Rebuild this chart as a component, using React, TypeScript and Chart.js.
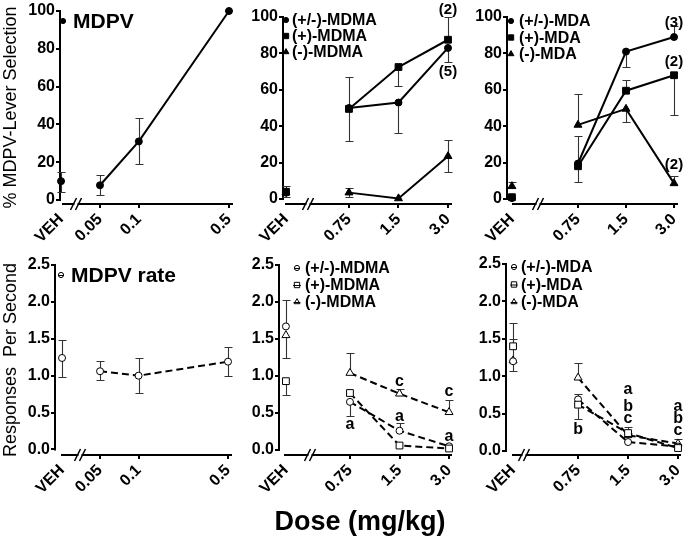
import React, { useEffect, useRef } from "react";
import { Chart, registerables } from "chart.js";
Chart.register(...registerables);

// ---------- categories / tick labels ----------
const VEH_LABEL = "VEH";
const MDPV_DOSES = [0.05, 0.1, 0.5];
const MDPV_DOSE_LABELS = ["0.05", "0.1", "0.5"];
const AMPH_DOSES = [0.75, 1.5, 3.0];
const AMPH_DOSE_LABELS = ["0.75", "1.5", "3.0"];
const PCT_TICKS = [0, 20, 40, 60, 80, 100];
const RATE_TICKS = [0, 0.5, 1.0, 1.5, 2.0, 2.5];

// ---------- values (index 0 = VEH, then doses); HI/LO = error bar ends ----------
// % MDPV-lever selection
const MDPV_SEL = [10, 7.8, 31, 100];
const MDPV_SEL_HI = [15, 13.2, 43.5, null];
const MDPV_SEL_LO = [4, 2.6, 19, null];

const RAC_MDMA_SEL = [3.5, 50, 53, 83];
const RAC_MDMA_SEL_HI = [null, null, null, null];
const RAC_MDMA_SEL_LO = [null, null, 36, 75];
const PLUS_MDMA_SEL = [4, 49.5, 72.5, 87.5];
const PLUS_MDMA_SEL_HI = [7, 67, null, 100];
const PLUS_MDMA_SEL_LO = [1, 32, 62, null];
const MINUS_MDMA_SEL = [3.5, 3.5, 0.3, 23.5];
const MINUS_MDMA_SEL_HI = [null, 6, null, 32.5];
const MINUS_MDMA_SEL_LO = [null, 1, null, 15];

const RAC_MDA_SEL = [0.5, 19.5, 81, 89];
const RAC_MDA_SEL_HI = [null, 34.5, null, 95];
const RAC_MDA_SEL_LO = [null, null, 72.5, null];
const PLUS_MDA_SEL = [1, 18, 59.5, 68];
const PLUS_MDA_SEL_HI = [null, null, 65.5, null];
const PLUS_MDA_SEL_LO = [null, 9.5, null, 46];
const MINUS_MDA_SEL = [7, 40.7, 49.5, 8.6];
const MINUS_MDA_SEL_HI = [9.5, 57.7, null, 12.8];
const MINUS_MDA_SEL_LO = [null, null, 42.5, null];

// Responses per second
const MDPV_RATE = [1.24, 1.06, 1.0, 1.19];
const MDPV_RATE_HI = [1.49, 1.2, 1.24, 1.39];
const MDPV_RATE_LO = [0.98, 0.94, 0.76, 0.99];

const RAC_MDMA_RATE = [1.67, 0.65, 0.26, 0.05];
const RAC_MDMA_RATE_HI = [2.03, null, 0.36, null];
const RAC_MDMA_RATE_LO = [null, 0.46, null, null];
const PLUS_MDMA_RATE = [0.93, 0.77, 0.06, 0.02];
const PLUS_MDMA_RATE_HI = [null, null, null, null];
const PLUS_MDMA_RATE_LO = [0.74, null, null, null];
const MINUS_MDMA_RATE = [1.55, 1.04, 0.76, 0.51];
const MINUS_MDMA_RATE_HI = [null, 1.31, 0.82, 0.68];
const MINUS_MDMA_RATE_LO = [1.24, null, null, null];

const RAC_MDA_RATE = [1.2, 0.69, 0.12, 0.06];
const RAC_MDA_RATE_HI = [1.5, 0.76, null, null];
const RAC_MDA_RATE_LO = [1.07, null, null, null];
const PLUS_MDA_RATE = [1.4, 0.62, 0.24, 0.04];
const PLUS_MDA_RATE_HI = [1.71, null, 0.32, null];
const PLUS_MDA_RATE_LO = [null, 0.43, null, null];
const MINUS_MDA_RATE = [1.21, 0.98, 0.21, 0.1];
const MINUS_MDA_RATE_HI = [null, 1.18, null, 0.16];
const MINUS_MDA_RATE_LO = [null, null, null, null];

// ---------- annotations (n per group, significance letters) ----------
const MDMA_SEL_NOTES = [
  { dose: 3.0, y: 104, text: "(2)" },
  { dose: 3.0, y: 70, text: "(5)" },
];
const MDA_SEL_NOTES = [
  { dose: 3.0, y: 97, text: "(3)" },
  { dose: 3.0, y: 75.4, text: "(2)" },
  { dose: 3.0, y: 18.7, text: "(2)" },
];
const MDMA_RATE_NOTES = [
  { dose: 0.75, y: 0.34, text: "a" },
  { dose: 1.5, y: 0.92, text: "c" },
  { dose: 1.5, y: 0.45, text: "a" },
  { dose: 3.0, y: 0.79, text: "c" },
  { dose: 3.0, y: 0.18, text: "a" },
];
const MDA_RATE_NOTES = [
  { dose: 0.75, y: 0.28, text: "b" },
  { dose: 1.5, y: 0.82, text: "a" },
  { dose: 1.5, y: 0.6, text: "b" },
  { dose: 1.5, y: 0.44, text: "c" },
  { dose: 3.0, y: 0.59, text: "a" },
  { dose: 3.0, y: 0.43, text: "b" },
  { dose: 3.0, y: 0.27, text: "c" },
];

const FONT = "'Liberation Sans', Arial, Helvetica, sans-serif";
const W = 685;
const H = 539;
const XH = 60;
const xPos = (d: number) => Math.log10(d);

type Series = { label: string; style: string; values: number[]; hi: (number | null)[]; lo: (number | null)[] };

const PANELS: any[] = [
  {
    area: { left: 60, right: 233, top: 11, bottom: 204 }, yw: 60,
    ymin: -2.1, ymax: 100, yTicks: PCT_TICKS, yFmt: (v: number) => String(v), yTitle: "% MDPV-Lever Selection",
    xmin: -1.611, xmax: -0.27, veh: -1.603, doses: MDPV_DOSES, doseLabels: MDPV_DOSE_LABELS, open: false,
    series: [{ label: "MDPV", style: "circle", values: MDPV_SEL, hi: MDPV_SEL_HI, lo: MDPV_SEL_LO }],
    legend: { dx: 3, dy: 10, gap: 0, textDx: 10, size: 21 },
    notes: [], xAxisStart: 2, breakAt: 16,
  },
  {
    area: { left: 283, right: 452, top: 17, bottom: 204 }, yw: 40,
    ymin: -2.75, ymax: 100, yTicks: PCT_TICKS, yFmt: (v: number) => String(v), yTitle: "",
    xmin: -0.526, xmax: 0.5014, veh: -0.508, doses: AMPH_DOSES, doseLabels: AMPH_DOSE_LABELS, open: false,
    series: [
      { label: "(+/-)-MDMA", style: "circle", values: RAC_MDMA_SEL, hi: RAC_MDMA_SEL_HI, lo: RAC_MDMA_SEL_LO },
      { label: "(+)-MDMA", style: "rect", values: PLUS_MDMA_SEL, hi: PLUS_MDMA_SEL_HI, lo: PLUS_MDMA_SEL_LO },
      { label: "(-)-MDMA", style: "triangle", values: MINUS_MDMA_SEL, hi: MINUS_MDMA_SEL_HI, lo: MINUS_MDMA_SEL_LO },
    ],
    legend: { dx: 3, dy: 3, gap: 16, textDx: 6, size: 16 },
    notes: MDMA_SEL_NOTES, xAxisStart: 2, breakAt: 25,
  },
  {
    area: { left: 507, right: 678, top: 17, bottom: 204 }, yw: 40,
    ymin: -2.75, ymax: 100, yTicks: PCT_TICKS, yFmt: (v: number) => String(v), yTitle: "",
    xmin: -0.570, xmax: 0.502, veh: -0.539, doses: AMPH_DOSES, doseLabels: AMPH_DOSE_LABELS, open: false,
    series: [
      { label: "(+/-)-MDA", style: "circle", values: RAC_MDA_SEL, hi: RAC_MDA_SEL_HI, lo: RAC_MDA_SEL_LO },
      { label: "(+)-MDA", style: "rect", values: PLUS_MDA_SEL, hi: PLUS_MDA_SEL_HI, lo: PLUS_MDA_SEL_LO },
      { label: "(-)-MDA", style: "triangle", values: MINUS_MDA_SEL, hi: MINUS_MDA_SEL_HI, lo: MINUS_MDA_SEL_LO },
    ],
    legend: { dx: 4, dy: 4, gap: 16.5, textDx: 8, size: 16 },
    notes: MDA_SEL_NOTES, xAxisStart: 5, breakAt: 31,
  },
  {
    area: { left: 55, right: 232, top: 265, bottom: 455 }, yw: 55,
    ymin: -0.075, ymax: 2.5, yTicks: RATE_TICKS, yFmt: (v: number) => v.toFixed(1), yTitle: "Responses  Per Second",
    xmin: -1.653, xmax: -0.27, veh: -1.598, doses: MDPV_DOSES, doseLabels: MDPV_DOSE_LABELS, open: true,
    series: [{ label: "MDPV rate", style: "circle", values: MDPV_RATE, hi: MDPV_RATE_HI, lo: MDPV_RATE_LO }],
    legend: { dx: 6, dy: 10, gap: 0, textDx: 10, size: 21 },
    notes: [], xAxisStart: 6, breakAt: 25,
  },
  {
    area: { left: 279, right: 452, top: 265, bottom: 455 }, yw: 40,
    ymin: -0.068, ymax: 2.5, yTicks: RATE_TICKS, yFmt: (v: number) => v.toFixed(1), yTitle: "",
    xmin: -0.556, xmax: 0.495, veh: -0.514, doses: AMPH_DOSES, doseLabels: AMPH_DOSE_LABELS, open: true,
    series: [
      { label: "(+/-)-MDMA", style: "circle", values: RAC_MDMA_RATE, hi: RAC_MDMA_RATE_HI, lo: RAC_MDMA_RATE_LO },
      { label: "(+)-MDMA", style: "rect", values: PLUS_MDMA_RATE, hi: PLUS_MDMA_RATE_HI, lo: PLUS_MDMA_RATE_LO },
      { label: "(-)-MDMA", style: "triangle", values: MINUS_MDMA_RATE, hi: MINUS_MDMA_RATE_HI, lo: MINUS_MDMA_RATE_LO },
    ],
    legend: { dx: 18, dy: 3, gap: 17, textDx: 8, size: 16 },
    notes: MDMA_RATE_NOTES, xAxisStart: 5, breakAt: 31,
  },
  {
    area: { left: 506, right: 681, top: 264, bottom: 455 }, yw: 40,
    ymin: -0.053, ymax: 2.5, yTicks: RATE_TICKS, yFmt: (v: number) => v.toFixed(1), yTitle: "",
    xmin: -0.559, xmax: 0.495, veh: -0.5165, doses: AMPH_DOSES, doseLabels: AMPH_DOSE_LABELS, open: true,
    series: [
      { label: "(+/-)-MDA", style: "circle", values: RAC_MDA_RATE, hi: RAC_MDA_RATE_HI, lo: RAC_MDA_RATE_LO },
      { label: "(+)-MDA", style: "rect", values: PLUS_MDA_RATE, hi: PLUS_MDA_RATE_HI, lo: PLUS_MDA_RATE_LO },
      { label: "(-)-MDA", style: "triangle", values: MINUS_MDA_RATE, hi: MINUS_MDA_RATE_HI, lo: MINUS_MDA_RATE_LO },
    ],
    legend: { dx: 8, dy: 3, gap: 17.5, textDx: 7, size: 16 },
    notes: MDA_RATE_NOTES, xAxisStart: 6, breakAt: 18,
  },
];

const MARKER_R: Record<string, number> = { circle: 3.5, rect: 4.8, triangle: 4.6 };
const LEGEND_R: Record<string, number> = { circle: 2.6, rect: 3.8, triangle: 3.4 };

function drawMarker(ctx: CanvasRenderingContext2D, style: string, x: number, y: number, r: number, open: boolean) {
  ctx.beginPath();
  if (style === "circle") {
    ctx.arc(x, y, r, 0, Math.PI * 2);
  } else if (style === "rect") {
    const s = Math.SQRT1_2 * r;
    ctx.rect(x - s, y - s, 2 * s, 2 * s);
  } else {
    ctx.moveTo(x, y - r);
    ctx.lineTo(x + r * Math.sin((2 * Math.PI) / 3), y - r * Math.cos((2 * Math.PI) / 3));
    ctx.lineTo(x + r * Math.sin((4 * Math.PI) / 3), y - r * Math.cos((4 * Math.PI) / 3));
    ctx.closePath();
  }
  ctx.fillStyle = open ? "#fff" : "#000";
  ctx.fill();
  ctx.lineWidth = 1;
  ctx.strokeStyle = "#000";
  ctx.stroke();
}

const decorPlugin = {
  id: "decor",
  beforeDatasetsDraw(chart: any, _a: any, opts: any) {
    const { ctx, chartArea } = chart;
    const x = chart.scales.x;
    const y = chart.scales.y;
    ctx.save();
    ctx.strokeStyle = "#000";
    ctx.lineWidth = 2;
    // y axis (ends at 0)
    ctx.beginPath();
    ctx.moveTo(chartArea.left, y.getPixelForValue(y.max) - 1);
    ctx.lineTo(chartArea.left, y.getPixelForValue(0) + 1);
    ctx.stroke();
    // x axis, offset
    const yb = chartArea.bottom;
    ctx.beginPath();
    ctx.moveTo(chartArea.left + opts.xAxisStart, yb);
    ctx.lineTo(chartArea.right, yb);
    ctx.stroke();
    // axis break
    const bx = chartArea.left + opts.breakAt;
    ctx.fillStyle = "#fff";
    ctx.fillRect(bx - 1.5, yb - 1.5, 3, 3);
    ctx.lineWidth = 1.5;
    for (const dx of [-2.5, 2.5]) {
      ctx.beginPath();
      ctx.moveTo(bx + dx - 3, yb + 6);
      ctx.lineTo(bx + dx + 3, yb - 6);
      ctx.stroke();
    }
    // error bars
    ctx.strokeStyle = "#333";
    ctx.lineWidth = 1.1;
    chart.data.datasets.forEach((ds: any) => {
      ds.data.forEach((pt: any, i: number) => {
        const px = Math.round(x.getPixelForValue(pt.x)) + 0.5;
        const py0 = y.getPixelForValue(pt.y);
        for (const b of [ds.errHi[i], ds.errLo[i]]) {
          if (b == null) continue;
          const py1 = Math.round(y.getPixelForValue(b)) + 0.5;
          ctx.beginPath();
          ctx.moveTo(px, py0);
          ctx.lineTo(px, py1);
          ctx.moveTo(px - 4, py1);
          ctx.lineTo(px + 4, py1);
          ctx.stroke();
        }
      });
    });
    ctx.restore();
  },
  afterDraw(chart: any, _a: any, opts: any) {
    const { ctx, chartArea } = chart;
    const x = chart.scales.x;
    const y = chart.scales.y;
    ctx.save();
    // legend
    const lg = opts.legend;
    opts.items.forEach((it: any, i: number) => {
      const mx = chartArea.left + lg.dx;
      const my = chartArea.top + lg.dy + i * lg.gap;
      drawMarker(ctx, it.style, mx, my, LEGEND_R[it.style], it.open);
      if (it.open) {
        ctx.strokeStyle = "#000";
        ctx.lineWidth = 1;
        ctx.beginPath();
        ctx.moveTo(mx - LEGEND_R[it.style], my + 0.5);
        ctx.lineTo(mx + LEGEND_R[it.style], my + 0.5);
        ctx.stroke();
      }
      ctx.fillStyle = "#000";
      ctx.font = `bold ${lg.size}px ${FONT}`;
      ctx.textAlign = "left";
      ctx.textBaseline = "middle";
      ctx.fillText(it.text, mx + lg.textDx, my + 1);
    });
    // notes
    opts.notes.forEach((n: any) => {
      const isLetter = n.text.length === 1;
      ctx.font = isLetter ? `bold 16px ${FONT}` : `bold 15px ${FONT}`;
      ctx.fillStyle = "#000";
      ctx.textAlign = "center";
      ctx.textBaseline = "middle";
      ctx.fillText(n.text, x.getPixelForValue(xPos(n.dose)), y.getPixelForValue(n.y));
    });
    ctx.restore();
  },
};

function makeChart(canvas: HTMLCanvasElement, p: any) {
  const xTicks = [p.veh, ...p.doses.map(xPos)];
  const xLabels = [VEH_LABEL, ...p.doseLabels];
  const datasets = p.series.map((s: Series, si: number) => ({
    label: s.label,
    data: s.values.map((v, i) => ({ x: i === 0 ? p.veh : xPos(p.doses[i - 1]), y: v })),
    errHi: s.hi,
    errLo: s.lo,
    borderColor: "#000",
    borderWidth: 2,
    borderDash: p.open ? [7, 4] : [],
    pointStyle: s.style,
    pointRadius: MARKER_R[s.style],
    pointBackgroundColor: p.open ? "#fff" : "#000",
    pointBorderColor: "#000",
    pointBorderWidth: 1,
    tension: 0,
    fill: false,
    clip: false,
    order: s.style === "rect" ? 0 : si + 1,
    segment: { borderColor: (c: any) => (c.p0DataIndex === 0 ? "rgba(0,0,0,0)" : undefined) },
  }));
  const tickFont = { family: FONT, size: 16, weight: "bold" as const };
  return new Chart(canvas, {
    type: "line",
    data: { datasets },
    plugins: [decorPlugin],
    options: {
      responsive: false,
      animation: false,
      devicePixelRatio: 1,
      events: [],
      layout: {
        autoPadding: false,
        padding: {
          left: p.area.left - p.yw,
          right: W - p.area.right,
          top: p.area.top,
          bottom: H - p.area.bottom - XH,
        },
      },
      scales: {
        x: {
          type: "linear",
          min: p.xmin,
          max: p.xmax,
          afterBuildTicks: (s: any) => { s.ticks = xTicks.map((v) => ({ value: v })); },
          afterFit: (s: any) => { s.height = XH; s.paddingLeft = 0; s.paddingRight = 0; },
          ticks: {
            autoSkip: false,
            minRotation: 45,
            maxRotation: 45,
            padding: 2,
            color: "#000",
            font: tickFont,
            callback: (_v: any, i: number) => xLabels[i],
          },
          grid: {
            drawOnChartArea: false,
            drawTicks: true,
            tickLength: 4,
            lineWidth: 2,
            color: (c: any) => (c.index === 0 ? "rgba(0,0,0,0)" : "#000"),
          },
          border: { display: false },
        },
        y: {
          type: "linear",
          min: p.ymin,
          max: p.ymax,
          afterBuildTicks: (s: any) => { s.ticks = p.yTicks.map((v: number) => ({ value: v })); },
          afterFit: (s: any) => { s.width = p.yw; s.paddingTop = 0; s.paddingBottom = 0; },
          ticks: { padding: 1, color: "#000", font: tickFont, callback: (v: any) => p.yFmt(Number(v)) },
          grid: { drawOnChartArea: false, drawTicks: true, tickLength: 4, lineWidth: 2, color: "#000" },
          border: { display: false },
          title: {
            display: !!p.yTitle,
            text: p.yTitle,
            color: "#000",
            font: { family: FONT, size: 18 },
            padding: 0,
          },
        },
      },
      plugins: {
        legend: { display: false },
        tooltip: { enabled: false },
        decor: {
          legend: p.legend,
          items: p.series.map((s: Series) => ({ text: s.label, style: s.style, open: p.open })),
          notes: p.notes,
          xAxisStart: p.xAxisStart,
          breakAt: p.breakAt,
        },
      } as any,
    } as any,
  });
}

export default function App() {
  const refs = useRef<(HTMLCanvasElement | null)[]>([]);
  useEffect(() => {
    const charts = PANELS.map((p, i) => makeChart(refs.current[i] as HTMLCanvasElement, p));
    return () => charts.forEach((c) => c.destroy());
  }, []);
  return (
    <div style={{ position: "absolute", left: 0, top: 0, width: W, height: H, background: "#fff", overflow: "hidden" }}>
      {PANELS.map((_p, i) => (
        <canvas
          key={i}
          ref={(el) => { refs.current[i] = el; }}
          width={W}
          height={H}
          style={{ position: "absolute", left: 0, top: 0 }}
        />
      ))}
      <div
        style={{
          position: "absolute",
          left: 240,
          width: 240,
          top: 506,
          textAlign: "center",
          fontFamily: FONT,
          fontWeight: "bold",
          fontSize: 27,
          whiteSpace: "nowrap",
          color: "#000",
        }}
      >
        Dose (mg/kg)
      </div>
    </div>
  );
}
